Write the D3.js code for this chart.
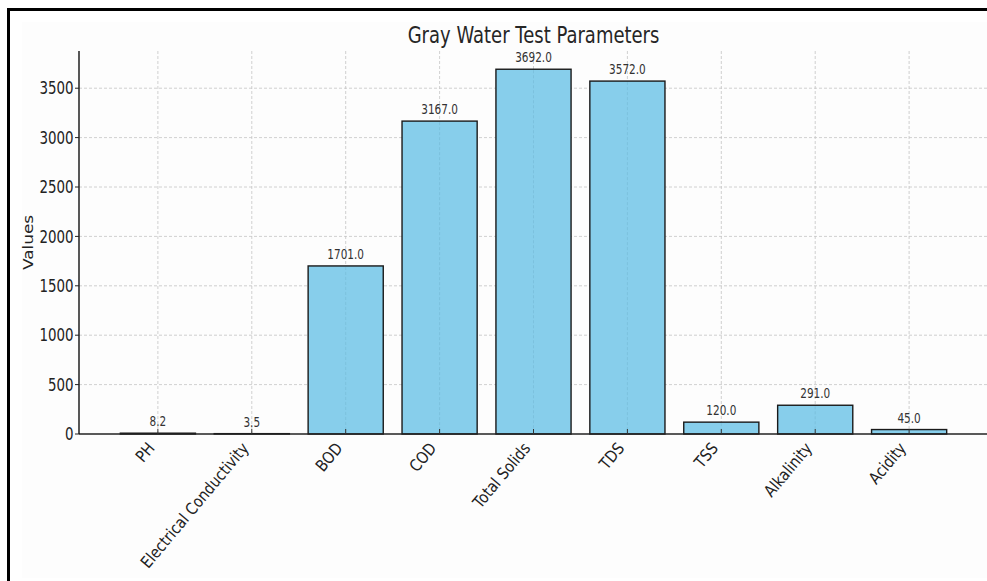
<!DOCTYPE html>
<html>
<head>
<meta charset="utf-8">
<script src="https://cdn.jsdelivr.net/npm/d3@7"></script>
<style>
  html, body { margin: 0; padding: 0; background: #ffffff; }
  svg { display: block; }
  text { font-family: "DejaVu Sans", sans-serif; }
</style>
</head>
<body>
<svg id="chart" width="987" height="581"></svg>
<script>
// Gray water test results
const categories = ["PH", "Electrical Conductivity", "BOD", "COD", "Total Solids", "TDS", "TSS", "Alkalinity", "Acidity"];
const values = [8.2, 3.5, 1701.0, 3167.0, 3692.0, 3572.0, 120.0, 291.0, 45.0];
const yTicks = [0, 500, 1000, 1500, 2000, 2500, 3000, 3500];
const chartTitle = "Gray Water Test Parameters";
const yTitle = "Values";

const W = 987, H = 581;
const K = 1.3; // vertical stretch applied to text glyphs
const svg = d3.select("#chart");

// frame and faint figure background
svg.append("rect").attr("x", 22).attr("y", 22).attr("width", W - 22).attr("height", H - 25)
  .attr("fill", "#fdfdfd");
svg.append("path").attr("d", `M8.5,${H} V9.5 H${W}`).attr("fill", "none")
  .attr("stroke", "#000").attr("stroke-width", 3);

const plot = { left: 79, right: 988, top: 51, bottom: 434 };

const x = d3.scaleBand().domain(categories)
  .range([plot.left, plot.right]).paddingInner(0.2).paddingOuter(0.44);
const y = d3.scaleLinear().domain([0, d3.max(values) * 1.05]).range([plot.bottom, plot.top]);
const cx = d => x(d) + x.bandwidth() / 2;

function place(sel, px, py, rot) {
  sel.attr("transform", `translate(${px},${py}) scale(1,${K})` + (rot ? ` rotate(${rot})` : ""));
  return sel;
}

// grid
const grid = svg.append("g").attr("stroke", "#c4c4c4").attr("stroke-width", 0.8)
  .attr("stroke-dasharray", "3,2").attr("fill", "none");
grid.selectAll("line.h").data(yTicks.filter(d => d > 0)).join("line").attr("class", "h")
  .attr("x1", plot.left).attr("x2", plot.right)
  .attr("y1", d => y(d)).attr("y2", d => y(d));
grid.selectAll("line.v").data(categories).join("line").attr("class", "v")
  .attr("x1", cx).attr("x2", cx)
  .attr("y1", plot.top).attr("y2", plot.bottom);

// bars
svg.append("g").selectAll("rect").data(categories).join("rect")
  .attr("x", d => x(d))
  .attr("width", x.bandwidth())
  .attr("y", (d, i) => y(values[i]))
  .attr("height", (d, i) => y(0) - y(values[i]))
  .attr("fill", "#87CEEB")
  .attr("stroke", "#1a1a1a").attr("stroke-width", 1.4);

// faint vertical grid showing through bars
svg.append("g").attr("stroke", "#5a9ab5").attr("stroke-width", 0.8).attr("stroke-opacity", 0.3)
  .attr("stroke-dasharray", "3,2")
  .selectAll("line").data(categories).join("line")
  .attr("x1", cx).attr("x2", cx)
  .attr("y1", (d, i) => y(values[i]) + 1).attr("y2", plot.bottom);

// value labels
svg.append("g").selectAll("text").data(categories).join("text")
  .each(function (d, i) { place(d3.select(this), cx(d), y(values[i]) - 7); })
  .attr("text-anchor", "middle").attr("font-size", 10.5).attr("fill", "#333")
  .text((d, i) => values[i].toFixed(1));

// axes lines
svg.append("line").attr("x1", plot.left).attr("x2", W).attr("y1", plot.bottom).attr("y2", plot.bottom)
  .attr("stroke", "#222").attr("stroke-width", 1.4);
svg.append("line").attr("x1", plot.left).attr("x2", plot.left).attr("y1", plot.top).attr("y2", plot.bottom)
  .attr("stroke", "#111").attr("stroke-width", 1.4);

// y ticks and labels
const yAxis = svg.append("g");
yAxis.selectAll("line").data(yTicks).join("line")
  .attr("x1", plot.left - 4).attr("x2", plot.left)
  .attr("y1", d => y(d)).attr("y2", d => y(d))
  .attr("stroke", "#222").attr("stroke-width", 1);
yAxis.selectAll("text").data(yTicks).join("text")
  .each(function (d) { place(d3.select(this), plot.left - 5.5, y(d)); })
  .attr("dy", "0.36em").attr("text-anchor", "end").attr("font-size", 13.4).attr("fill", "#222")
  .text(d => d);

// x ticks (pointing inward)
svg.append("g").selectAll("line").data(categories).join("line")
  .attr("x1", cx).attr("x2", cx)
  .attr("y1", plot.bottom).attr("y2", plot.bottom - 5)
  .attr("stroke", "#333").attr("stroke-width", 1);

// rotated category labels, top-right corner aligned under each tick
function placeRot(sel, px, py) {
  sel.attr("transform", `translate(${px},${py}) rotate(-50) scale(1.05,1.22)`);
}
const xLabels = svg.append("g").selectAll("text").data(categories).join("text")
  .attr("text-anchor", "end").attr("dy", "0.3em").attr("font-size", 13.4).attr("fill", "#222")
  .text(d => d)
  .each(function () { placeRot(d3.select(this), 0, 0); });
xLabels.each(function (d) {
  const b = this.getBoundingClientRect();
  placeRot(d3.select(this), cx(d) + 1 - b.right, plot.bottom + 5 - b.top);
});

// title and y-axis title
place(svg.append("text"), (plot.left + plot.right) / 2, 42.5)
  .attr("text-anchor", "middle").attr("font-size", 18).attr("fill", "#262626")
  .text(chartTitle);
svg.append("text")
  .attr("transform", `translate(33,${(plot.top + plot.bottom) / 2}) rotate(-90) scale(1.3,1.05)`)
  .attr("text-anchor", "middle").attr("font-size", 13).attr("fill", "#222")
  .text(yTitle);
</script>
</body>
</html>
